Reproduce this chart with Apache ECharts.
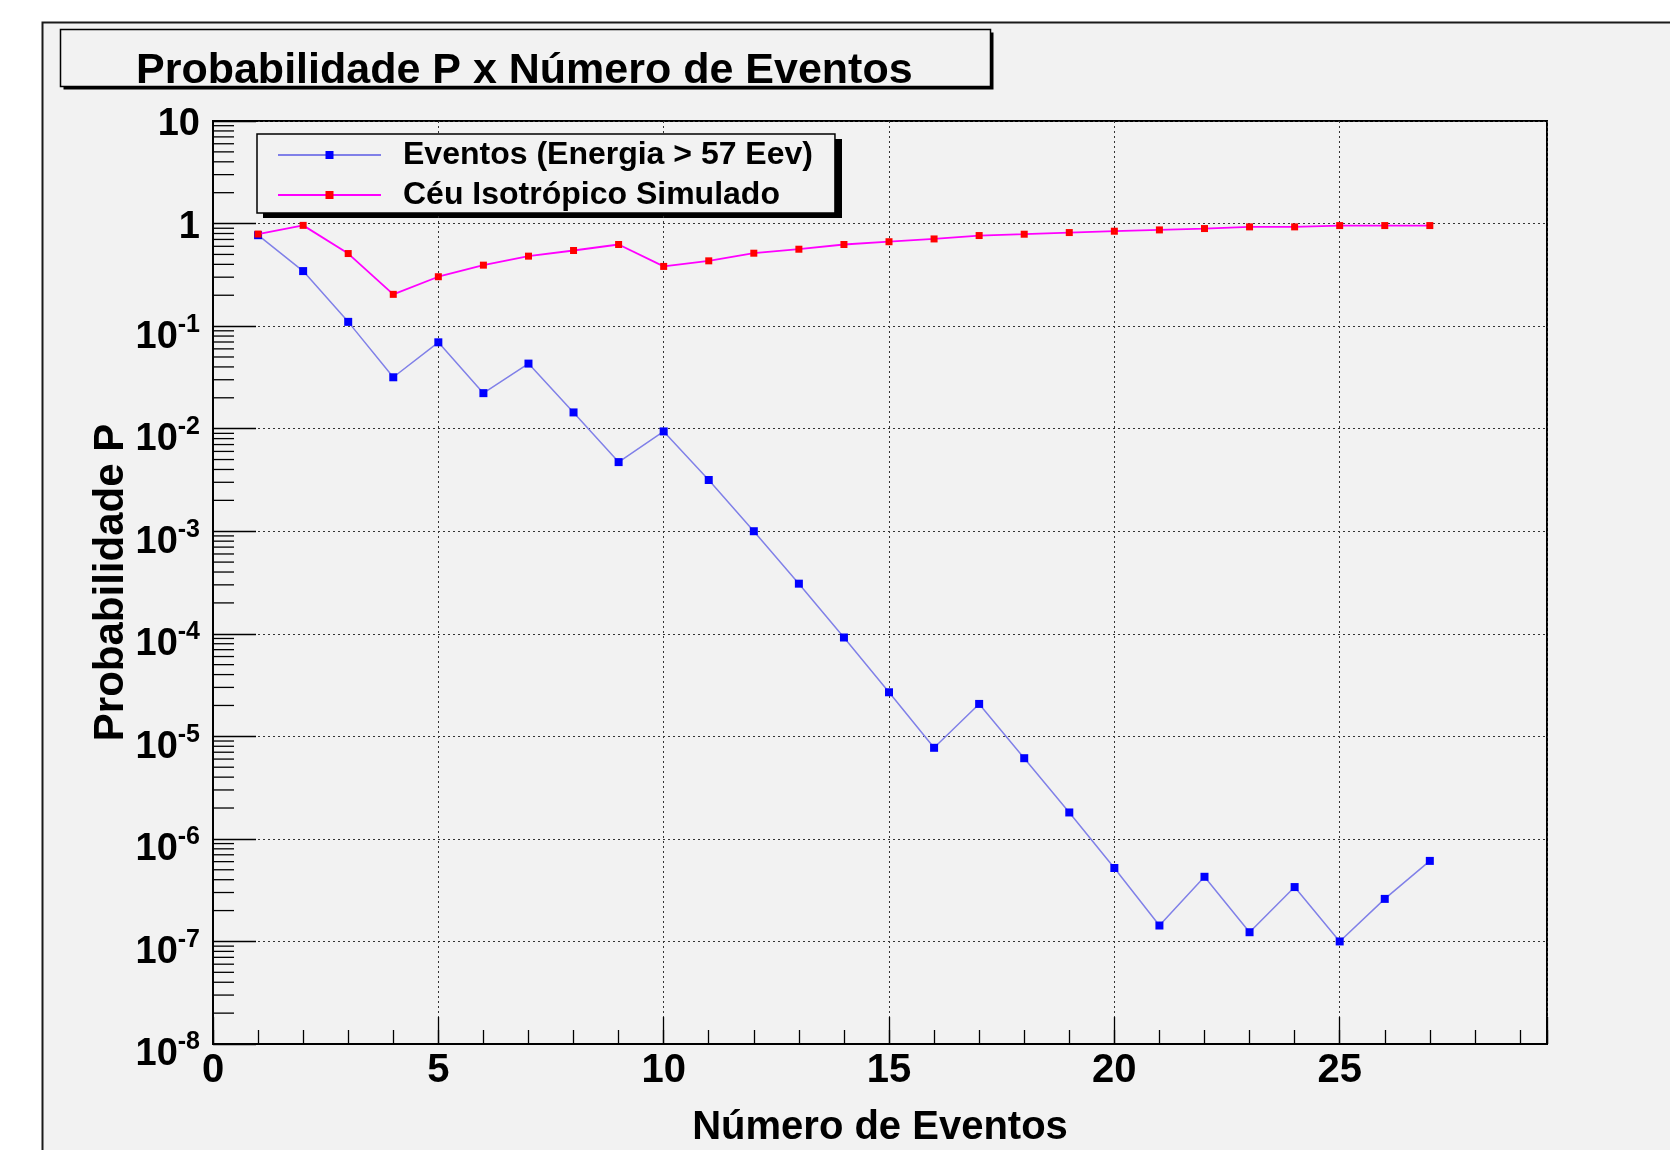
<!DOCTYPE html>
<html>
<head>
<meta charset="utf-8">
<title>Probabilidade P x Número de Eventos</title>
<script src="https://cdn.jsdelivr.net/npm/echarts@6/dist/echarts.min.js"></script>
<style>
  html, body { margin: 0; padding: 0; background: #fff; }
  #chart { width: 1670px; height: 1150px; }
</style>
</head>
<body>
<div id="chart"></div>
<script>
// Number of events (x) and the two probability curves (log y)
const events = [1, 2, 3, 4, 5, 6, 7, 8, 9, 10, 11, 12, 13, 14, 15, 16, 17, 18, 19, 20, 21, 22, 23, 24, 25, 26, 27];

const eventosP = [0.77, 0.344, 0.110, 0.0317, 0.0695, 0.0222, 0.0431, 0.0144, 0.00472, 0.0094,
  0.00316, 0.00100, 3.08e-4, 9.2e-5, 2.69e-5, 7.73e-6, 2.07e-5, 6.12e-6, 1.81e-6, 5.2e-7,
  1.43e-7, 4.27e-7, 1.23e-7, 3.39e-7, 1.0e-7, 2.6e-7, 6.1e-7];

const ceuP = [0.79, 0.96, 0.51, 0.204, 0.303, 0.393, 0.481, 0.546, 0.625, 0.382,
  0.433, 0.514, 0.562, 0.625, 0.665, 0.708, 0.764, 0.787, 0.817, 0.842,
  0.867, 0.894, 0.928, 0.928, 0.956, 0.956, 0.956];

const seriesNames = ['Eventos (Energia > 57 Eev)', 'C\u00e9u Isotr\u00f3pico Simulado'];

// Axis ranges
const xMin = 0, xMax = 29.6;
const yMin = 1e-8, yMax = 10;
// Minor log ticks: multipliers inside each decade
const decadeExps = [-8, -7, -6, -5, -4, -3, -2, -1, 0];
const minorMult = [2, 3, 4, 5, 6, 7, 8, 9];

const FONT = '"Liberation Sans", Arial, Helvetica, sans-serif';

const minorTickVals = [];
decadeExps.forEach(e => minorMult.forEach(m => minorTickVals.push([xMin, m * Math.pow(10, e)])));

const chart = echarts.init(document.getElementById('chart'), null, { renderer: 'canvas' });

// Power-of-ten labels: plain for 10 and 1, superscript exponent otherwise
function yLabel(v) {
  const e = Math.round(Math.log10(v));
  if (e === 1) return '{b|10}';
  if (e === 0) return '{b|1}';
  return '{bs|10}{s|' + e + '}';
}

const option = {
  animation: false,
  backgroundColor: '#ffffff',
  graphic: [
    // canvas pad
    { type: 'rect', z: -10, silent: true,
      shape: { x: 42.5, y: 22.5, width: 1700, height: 1200 },
      style: { fill: '#f2f2f2', stroke: '#1a1a1a', lineWidth: 2 } },
    // title pave with shadow
    { type: 'rect', z: -5, silent: true,
      shape: { x: 63.5, y: 32.5, width: 930, height: 57 },
      style: { fill: '#000' } },
    { type: 'rect', z: -4, silent: true,
      shape: { x: 60.5, y: 29.5, width: 930, height: 57 },
      style: { fill: '#f2f2f2', stroke: '#000', lineWidth: 1.5 } },
    // legend pave shadow
    { type: 'rect', z: -3, silent: true,
      shape: { x: 263, y: 139, width: 579, height: 79 },
      style: { fill: '#000' } }
  ],
  title: {
    text: 'Probabilidade P x N\u00famero de Eventos',
    left: 136, top: 49.5, padding: 0,
    textStyle: { fontFamily: FONT, fontWeight: 'bold', fontSize: 43, color: '#000' }
  },
  legend: {
    data: seriesNames,
    orient: 'vertical',
    left: 257, top: 134,
    padding: [5, 22, 2, 20],
    itemWidth: 103, itemHeight: 10, itemGap: 8,
    selectedMode: false,
    backgroundColor: '#f2f2f2',
    borderColor: '#000', borderWidth: 1.5,
    textStyle: { fontFamily: FONT, fontWeight: 'bold', fontSize: 32, color: '#000',
      lineHeight: 32, padding: [0, 0, 0, 17] }
  },
  grid: {
    left: 213, right: 123, top: 121, bottom: 106,
    show: true, borderColor: '#000', borderWidth: 2, backgroundColor: 'transparent',
    containLabel: false, outerBoundsMode: 'none'
  },
  xAxis: [
    {
      type: 'value', min: xMin, max: xMax, interval: 5, position: 'bottom',
      name: 'N\u00famero de Eventos', nameLocation: 'middle', nameGap: 64, nameMoveOverlap: false,
      nameTextStyle: { fontFamily: FONT, fontWeight: 'bold', fontSize: 40, color: '#000' },
      axisLine: { show: true, onZero: false, lineStyle: { color: '#000', width: 2 } },
      axisTick: { show: true, inside: true, length: 27, lineStyle: { color: '#000', width: 1.3 } },
      axisLabel: { margin: 7, fontFamily: FONT, fontWeight: 'bold', fontSize: 40, color: '#000',
        formatter: v => (Math.abs(v % 5) < 1e-9 ? String(v) : '') },
      splitLine: { show: true, lineStyle: { color: '#333', width: 1, type: [2, 3] } }
    },
    {
      type: 'value', min: xMin, max: xMax, interval: 1, position: 'bottom',
      axisLine: { show: false },
      axisTick: { show: true, inside: true, length: 14, lineStyle: { color: '#000', width: 1.3 } },
      axisLabel: { show: false },
      splitLine: { show: false }
    }
  ],
  yAxis: {
    type: 'log', logBase: 10, min: yMin, max: yMax, interval: 1, splitNumber: 9,
    name: 'Probabilidade P', nameLocation: 'middle', nameGap: 81, nameMoveOverlap: false,
    nameTextStyle: { fontFamily: FONT, fontWeight: 'bold', fontSize: 42, color: '#000' },
    axisLine: { show: true, onZero: false, lineStyle: { color: '#000', width: 2 } },
    axisTick: { show: true, inside: true, length: 43, lineStyle: { color: '#000', width: 1.3 } },
    axisLabel: {
      margin: 13, formatter: yLabel,
      rich: {
        b: { fontFamily: FONT, fontWeight: 'bold', fontSize: 38, color: '#000', lineHeight: 40,
          padding: [7, 0, 0, 0] },
        bs: { fontFamily: FONT, fontWeight: 'bold', fontSize: 38, color: '#000', lineHeight: 40,
          verticalAlign: 'middle', padding: [22, 0, 0, 0] },
        s: { fontFamily: FONT, fontWeight: 'bold', fontSize: 25, color: '#000', lineHeight: 25,
          verticalAlign: 'top', padding: [6, 0, 0, 0] }
      }
    },
    splitLine: { show: true, lineStyle: { color: '#333', width: 1, type: [2, 3] } }
  },
  series: [
    {
      type: 'custom', name: 'minorTicks', silent: true, clip: false, z: 4,
      xAxisIndex: 0, yAxisIndex: 0,
      data: minorTickVals,
      renderItem: function (params, api) {
        const p = api.coord([api.value(0), api.value(1)]);
        return { type: 'line', shape: { x1: p[0], y1: p[1], x2: p[0] + 21, y2: p[1] },
          style: { stroke: '#000', lineWidth: 1.3 } };
      }
    },
    {
      name: seriesNames[0], type: 'line', xAxisIndex: 0,
      data: events.map((x, i) => [x, eventosP[i]]),
      symbol: 'rect', symbolSize: 8,
      lineStyle: { color: '#8080e8', width: 1.5 },
      itemStyle: { color: '#0000ff' },
      z: 5
    },
    {
      name: seriesNames[1], type: 'line', xAxisIndex: 0,
      data: events.map((x, i) => [x, ceuP[i]]),
      symbol: 'rect', symbolSize: 7,
      lineStyle: { color: '#ff00ff', width: 1.8 },
      itemStyle: { color: '#ff0000' },
      z: 6
    }
  ]
};

chart.setOption(option);
</script>
</body>
</html>
